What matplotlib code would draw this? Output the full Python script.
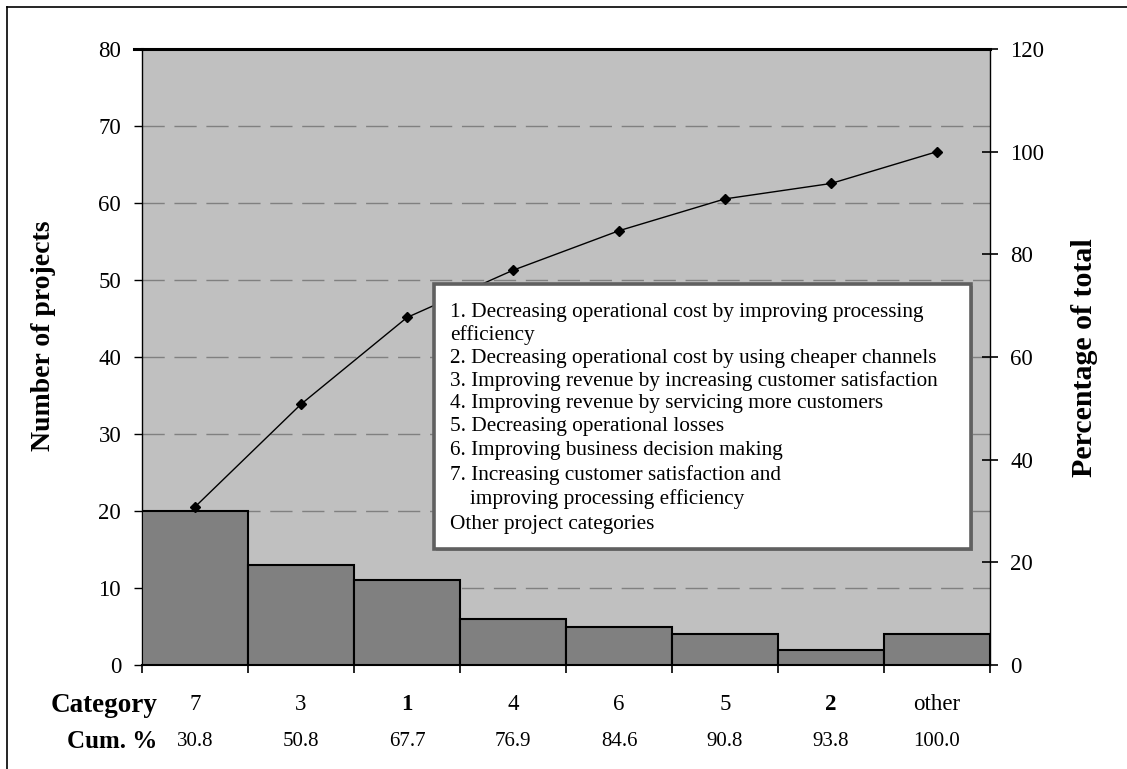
import matplotlib
matplotlib.use("Agg")
import matplotlib.pyplot as plt
from matplotlib.patches import Rectangle
import numpy as np

# ---- data ----
categories = ["7", "3", "1", "4", "6", "5", "2", "other"]
counts = [20, 13, 11, 6, 5, 4, 2, 4]
cum_pct = [30.8, 50.8, 67.7, 76.9, 84.6, 90.8, 93.8, 100.0]
cum_labels = ["30.8", "50.8", "67.7", "76.9", "84.6", "90.8", "93.8", "100.0"]
left_ticks = [0, 10, 20, 30, 40, 50, 60, 70, 80]
right_ticks = [0, 20, 40, 60, 80, 100, 120]
legend_lines = [
    "1. Decreasing operational cost by improving processing",
    "efficiency",
    "2. Decreasing operational cost by using cheaper channels",
    "3. Improving revenue by increasing customer satisfaction",
    "4. Improving revenue by servicing more customers",
    "5. Decreasing operational losses",
    "6. Improving business decision making",
    "7. Increasing customer satisfaction and",
    "    improving processing efficiency",
    "Other project categories",
]

plt.rcParams['font.family'] = ['Liberation Serif', 'DejaVu Serif']

W, H = 1127, 769
fig = plt.figure(figsize=(W / 100, H / 100), dpi=100)
fig.patch.set_facecolor('white')

def fx(px):
    return px / W

def fy(py):
    return 1 - py / H

# figure frame (left and top)
fig.add_artist(plt.Line2D([fx(7), fx(7)], [0, fy(7)], color='black', lw=1.2))
fig.add_artist(plt.Line2D([fx(7), 1], [fy(7), fy(7)], color='black', lw=1.2))

L, R, T, B = 142, 990, 49, 665
ax = fig.add_axes([fx(L), fy(B), fx(R) - fx(L), fy(T) - fy(B)])
ax.set_facecolor('#c0c0c0')

x = np.arange(len(categories))
ax.bar(x, counts, width=1.0, color='#808080', edgecolor='black', linewidth=1.5, zorder=3)

ax.set_xlim(-0.5, len(categories) - 0.5)
ax.set_ylim(0, 80)
ax.set_yticks(left_ticks)
ax.set_yticklabels([str(v) for v in left_ticks], fontsize=16.5)
for v in left_ticks[1:-1]:
    ax.axhline(v, color='#808080', lw=1.0, dashes=(16, 7), zorder=1)
ax.tick_params(axis='y', direction='out', length=6, width=1, pad=9, color='black')

# x ticks at category boundaries
ax.set_xticks(np.arange(len(categories) + 1) - 0.5)
ax.set_xticklabels([])
ax.tick_params(axis='x', direction='out', length=6, width=1.2)

for s in ['left', 'right']:
    ax.spines[s].set_linewidth(1.0)
ax.spines['bottom'].set_linewidth(1.5)
ax.spines['top'].set_linewidth(2.2)

# second axis
ax2 = ax.twinx()
ax2.set_ylim(0, 120)
ax2.set_yticks(right_ticks)
ax2.set_yticklabels([str(v) for v in right_ticks], fontsize=16.5)
ax2.tick_params(axis='y', direction='inout', length=11, width=1.2, pad=9)
ax2.plot(x, cum_pct, color='black', lw=1.0, marker='D', markersize=5, zorder=5)
for s in ax2.spines.values():
    s.set_visible(False)

# top line extension to left tick
ax.plot([-0.5, -0.5 - 8 / (R - L) * 8], [80, 80], color='black', lw=2.2, clip_on=False)

# category row and cum % row
for i, (c, p) in enumerate(zip(categories, cum_labels)):
    ax.annotate(c, xy=(i, 0), xycoords=('data', 'axes fraction'),
                xytext=(0, -(705 - B)), textcoords='offset pixels',
                ha='center', va='center', fontsize=16.5,
                fontweight='bold' if c in ('1', '2') else 'normal')
    ax.annotate(p, xy=(i, 0), xycoords=('data', 'axes fraction'),
                xytext=(0, -(742 - B)), textcoords='offset pixels',
                ha='center', va='center', fontsize=15)

fig.text(fx(157), fy(705), "Category", ha='right', va='center', fontsize=19.5, fontweight='bold')
fig.text(fx(157), fy(741), "Cum. %", ha='right', va='center', fontsize=18, fontweight='bold')

# axis labels
fig.text(fx(44), fy(336), "Number of projects", rotation=90, ha='center', va='center',
         fontsize=20, fontweight='bold')
fig.text(fx(1084), fy(358), "Percentage of total", rotation=90, ha='center', va='center',
         fontsize=21.5, fontweight='bold')

# legend box
bx0, by0, bx1, by1 = 434, 284, 971, 549
fig.add_artist(Rectangle((fx(bx0 + 2), fy(by1 + 2)), fx(bx1 - bx0), fy(by0) - fy(by1),
                         transform=fig.transFigure, facecolor='#8a8a8a', edgecolor='none', zorder=6))
fig.add_artist(Rectangle((fx(bx0), fy(by1)), fx(bx1 - bx0), fy(by0) - fy(by1),
                         transform=fig.transFigure, facecolor='white', edgecolor='#606060',
                         linewidth=2.6, zorder=7))
ys = [312, 335, 358, 381, 404, 427, 451, 475, 499, 524]
for line, yy in zip(legend_lines, ys):
    xs = 450
    txt = line
    if line.startswith("    "):
        xs = 470
        txt = line.strip()
    fig.text(fx(xs), fy(yy), txt, ha='left', va='center', fontsize=15.3, zorder=8)

fig.savefig("out.png", dpi=100)
